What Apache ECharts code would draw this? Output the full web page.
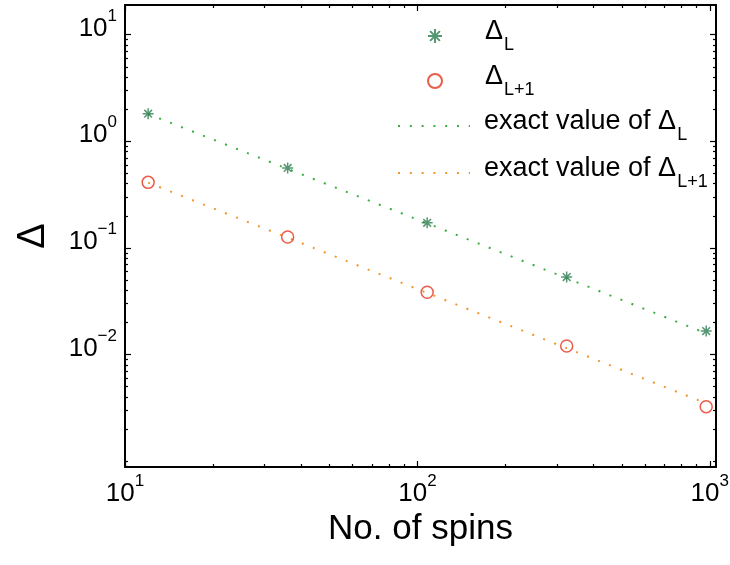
<!DOCTYPE html>
<html>
<head>
<meta charset="utf-8">
<script src="https://cdn.jsdelivr.net/npm/echarts@6/dist/echarts.min.js"></script>
<style>
html, body { margin: 0; padding: 0; background: #fff; }
#chart { width: 730px; height: 565px; }
</style>
</head>
<body>
<div id="chart"></div>
<script>
// data
const spins = [12, 36, 108, 324, 972];
const gapL = [1.815, 0.562, 0.172, 0.0533, 0.0166];
const gapL1 = [0.412, 0.1265, 0.0383, 0.0120, 0.00324];
const exactL = [1.804, 0.551, 0.170, 0.0520, 0.0158];
const exactL1 = [0.409, 0.1247, 0.0378, 0.01146, 0.00348];

// axis ticks
const xMajor = [10, 100, 1000];
const yMajor = [0.01, 0.1, 1, 10];
const xDecades = [1, 10, 100, 1000];
const yDecades = [0.0001, 0.001, 0.01, 0.1, 1, 10];
const minorSteps = [1, 2, 3, 4, 5, 6, 7, 8, 9];
const xRange = [10, 1050];
const yRange = [0.00088, 19];

const legendText = {
  dL: '{d|Δ}{s|L}',
  dL1: '{d|Δ}{s|L+1}',
  exactL: '{d|exact value of Δ}{s|L}',
  exactL1: '{d|exact value of Δ}{s|L+1}'
};

const font = '"Liberation Sans", Arial, sans-serif';
const pairs = (xs, ys) => xs.map((x, i) => [x, ys[i]]);
const minors = (decades, majors, range) => {
  let out = [];
  decades.forEach(m => minorSteps.forEach(k => out.push(k * m)));
  return out.filter(v => v > range[0] && v < range[1] &&
    !majors.some(mj => Math.abs(mj - v) / mj < 1e-9));
};

function supRich(lift) {
  return {
    b: { fontSize: 26, fontFamily: font, color: '#000', verticalAlign: 'bottom', padding: [0, 0, lift, 0] },
    e: { fontSize: 17, fontFamily: font, color: '#000', verticalAlign: 'bottom', padding: [0, 0, lift + 17, 0] }
  };
}
function powLabel(v) {
  const e = Math.round(Math.log10(v));
  return '{b|10}{e|' + (e < 0 ? '\u2212' + (-e) : e) + '}';
}

function makeAxis(pos, range, ticks, tickLen, main) {
  return {
    type: 'log',
    position: pos,
    min: range[0],
    max: range[1],
    splitLine: { show: false },
    axisLine: { show: main, onZero: false, lineStyle: { color: '#000', width: 2 } },
    axisTick: { show: true, inside: true, length: tickLen, customValues: ticks,
                lineStyle: { color: '#000', width: 1.2 } },
    axisLabel: { show: false },
    minorTick: { show: false }
  };
}

const xMinor = minors(xDecades, xMajor, xRange);
const yMinor = minors(yDecades, yMajor, yRange);

const xAxes = [
  makeAxis('bottom', xRange, xMajor, 6, true),
  makeAxis('bottom', xRange, xMinor, 3, false),
  makeAxis('top', xRange, xMajor, 6, true),
  makeAxis('top', xRange, xMinor, 3, false)
];
xAxes[0].axisLabel = { show: true, customValues: xMajor, formatter: powLabel, rich: supRich(0), margin: 6 };
xAxes[0].name = 'No. of spins';
xAxes[0].nameLocation = 'middle';
xAxes[0].nameGap = 36;
xAxes[0].nameTextStyle = { fontSize: 35, fontFamily: font, color: '#000' };

const yAxes = [
  makeAxis('left', yRange, yMajor, 6, true),
  makeAxis('left', yRange, yMinor, 3, false),
  makeAxis('right', yRange, yMajor, 6, true),
  makeAxis('right', yRange, yMinor, 3, false)
];
yAxes[0].axisLabel = { show: true, customValues: yMajor, formatter: powLabel, rich: supRich(20), margin: 8 };
yAxes[0].name = 'Δ';
yAxes[0].nameLocation = 'middle';
yAxes[0].nameGap = 72;
yAxes[0].nameRotate = 90;
yAxes[0].nameTextStyle = { fontSize: 38, fontFamily: font, color: '#000' };

const legendRich = {
  d: { fontSize: 27, fontFamily: font, color: '#000', verticalAlign: 'top' },
  s: { fontSize: 18, fontFamily: font, color: '#000', verticalAlign: 'top', padding: [18, 0, 0, 1] }
};
const legendNames = ['dL', 'dL1', 'exactL', 'exactL1'];
const legendTops = [18, 63, 108, 155];
const legendLefts = [427, 427, 397, 397];

const myChart = echarts.init(document.getElementById('chart'));
const option = {
  animation: false,
  backgroundColor: '#fff',
  grid: { left: 125, right: 14, top: 5, bottom: 98, containLabel: false, outerBoundsMode: 'none' },
  xAxis: xAxes,
  yAxis: yAxes,
  legend: legendNames.map((n, i) => ({
    data: n.indexOf('exact') === 0 ? [{ name: n, itemStyle: { opacity: 0 } }] : [n],
    left: legendLefts[i],
    top: legendTops[i],
    padding: 0,
    itemWidth: 72,
    itemHeight: 14,
    selectedMode: false,
    formatter: name => legendText[name],
    textStyle: { rich: legendRich, padding: [0, 0, 0, 9] }
  })),
  series: [
    {
      name: 'exactL', type: 'line', data: pairs(spins, exactL),
      symbol: 'none', z: 1, color: '#3cae3c',
      lineStyle: { color: '#3cae3c', width: 2, type: [2, 9.8] }
    },
    {
      name: 'exactL1', type: 'line', data: pairs(spins, exactL1),
      symbol: 'none', z: 1, color: '#f2962e',
      lineStyle: { color: '#f2962e', width: 2, type: [2, 9.8] }
    },
    {
      name: 'dL', type: 'scatter', data: pairs(spins, gapL), z: 3,
      symbol: 'path://M10,0L10,20M0,10L20,10M3,3L17,17M3,17L17,3',
      symbolSize: 11,
      itemStyle: { color: '#2c7d50', borderColor: '#2c7d50', borderWidth: 1.5 }
    },
    {
      name: 'dL1', type: 'scatter', data: pairs(spins, gapL1), z: 3,
      symbol: 'circle', symbolSize: 12,
      itemStyle: { color: 'transparent', borderColor: '#e3341c', borderWidth: 1.5 }
    }
  ]
};
myChart.setOption(option);
</script>
</body>
</html>
